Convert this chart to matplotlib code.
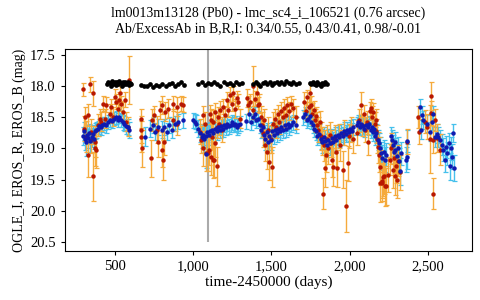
import matplotlib
matplotlib.use('Agg')
import matplotlib.pyplot as plt
import matplotlib.ticker as mticker

plt.rcParams['font.family'] = ['Liberation Serif', 'DejaVu Serif']

# EROS_B light curve: (day, mag, err)
eros_b = [
    (298, 18.05, 0.10), (305, 18.68, 0.20), (309, 18.49, 0.15), (319, 18.81, 0.25),
    (326, 19.11, 0.35), (330, 18.46, 0.18), (341, 17.97, 0.12), (347, 18.86, 0.22),
    (351, 18.73, 0.20), (362, 18.11, 0.20), (362, 19.45, 0.40), (373, 18.89, 0.25),
    (377, 19.00, 0.28), (383, 19.02, 0.30), (394, 18.62, 0.18), (405, 18.52, 0.15),
    (415, 18.57, 0.15), (426, 18.28, 0.12), (437, 18.52, 0.15), (447, 18.30, 0.12),
    (469, 18.44, 0.15), (479, 18.33, 0.12), (490, 18.49, 0.15), (500, 18.17, 0.12),
    (511, 18.25, 0.12), (522, 18.36, 0.15), (527, 18.22, 0.12), (532, 18.11, 0.12),
    (543, 18.28, 0.12), (554, 18.41, 0.15), (564, 18.22, 0.12), (575, 18.57, 0.15),
    (586, 18.65, 0.15), (592, 17.90, 0.38),
    (667, 18.52, 0.15), (667, 18.70, 0.22), (669, 18.81, 0.25), (671, 19.00, 0.30),
    (731, 19.16, 0.30), (735, 18.54, 0.18), (752, 18.46, 0.15), (767, 18.70, 0.22),
    (777, 18.89, 0.25), (788, 18.38, 0.15), (799, 19.02, 0.28), (803, 18.30, 0.15),
    (809, 19.18, 0.32), (812, 18.89, 0.22), (820, 18.41, 0.15), (841, 18.36, 0.15),
    (869, 18.28, 0.12), (873, 18.54, 0.18), (895, 18.33, 0.15), (899, 18.60, 0.18),
    (926, 18.28, 0.12), (937, 18.30, 0.12),
    (1044, 18.73, 0.20), (1054, 18.86, 0.22), (1061, 18.46, 0.15), (1065, 19.00, 0.28),
    (1076, 18.60, 0.18), (1086, 19.08, 0.28), (1095, 19.07, 0.30), (1103, 19.02, 0.25),
    (1108, 18.45, 0.15), (1112, 19.13, 0.30), (1118, 18.55, 0.18), (1124, 18.81, 0.22),
    (1127, 19.18, 0.30), (1129, 18.57, 0.18), (1133, 19.18, 0.28), (1139, 18.92, 0.22),
    (1140, 18.42, 0.15), (1150, 18.65, 0.18), (1152, 19.29, 0.32), (1161, 18.49, 0.15),
    (1167, 18.60, 0.18), (1171, 18.38, 0.15), (1182, 18.70, 0.20), (1193, 18.33, 0.12),
    (1203, 18.46, 0.15), (1214, 18.22, 0.12), (1225, 18.38, 0.12), (1235, 18.14, 0.12),
    (1246, 18.28, 0.12), (1256, 18.11, 0.12), (1267, 18.36, 0.15), (1278, 18.19, 0.12),
    (1289, 18.25, 0.12), (1299, 18.52, 0.15),
    (1342, 18.19, 0.15), (1352, 18.30, 0.15), (1365, 18.25, 0.12), (1380, 18.00, 0.32),
    (1384, 18.38, 0.15), (1398, 18.20, 0.12), (1406, 18.11, 0.15), (1415, 18.30, 0.12),
    (1423, 18.28, 0.15), (1432, 18.50, 0.18), (1440, 18.62, 0.20), (1448, 18.75, 0.22),
    (1455, 18.55, 0.18), (1462, 18.95, 0.25), (1470, 19.05, 0.28), (1478, 18.70, 0.20),
    (1488, 19.21, 0.30), (1495, 18.85, 0.22), (1505, 19.30, 0.32), (1512, 18.60, 0.18),
    (1522, 18.52, 0.15), (1532, 18.66, 0.18), (1542, 18.45, 0.15), (1552, 18.58, 0.18),
    (1562, 18.40, 0.15), (1572, 18.50, 0.15), (1582, 18.35, 0.15), (1592, 18.46, 0.15),
    (1602, 18.30, 0.12), (1615, 18.40, 0.15), (1628, 18.28, 0.12), (1640, 18.35, 0.15),
    (1655, 18.50, 0.18),
    (1710, 18.25, 0.15), (1720, 18.40, 0.15), (1730, 18.18, 0.12), (1740, 18.33, 0.15),
    (1747, 18.11, 0.15), (1755, 18.30, 0.15), (1762, 18.45, 0.18), (1770, 18.38, 0.15),
    (1778, 18.55, 0.18), (1785, 18.48, 0.15), (1792, 18.62, 0.20), (1800, 18.70, 0.20),
    (1808, 18.58, 0.18), (1815, 18.80, 0.22), (1822, 18.88, 0.22), (1832, 19.73, 0.25),
    (1838, 18.95, 0.25), (1843, 19.32, 0.30), (1849, 19.10, 0.28), (1856, 18.85, 0.22),
    (1864, 19.00, 0.25), (1872, 18.78, 0.20), (1880, 18.92, 0.22), (1885, 19.18, 0.28),
    (1896, 19.30, 0.30), (1905, 18.85, 0.22), (1915, 19.05, 0.25), (1922, 19.32, 0.30),
    (1932, 18.80, 0.20), (1942, 18.95, 0.25), (1956, 19.34, 0.30), (1965, 18.75, 0.20),
    (1977, 19.93, 0.42), (1988, 19.24, 0.28), (1998, 18.80, 0.20), (2010, 18.70, 0.20),
    (2025, 18.85, 0.22),
    (2050, 18.75, 0.20), (2060, 18.55, 0.18), (2070, 18.30, 0.20), (2080, 18.62, 0.18),
    (2090, 18.45, 0.15), (2100, 18.70, 0.20), (2110, 18.58, 0.18), (2120, 18.89, 0.22),
    (2130, 18.40, 0.15), (2138, 18.35, 0.15), (2145, 18.50, 0.18), (2152, 18.42, 0.15),
    (2160, 18.60, 0.18), (2166, 18.55, 0.18), (2172, 18.72, 0.20), (2178, 18.85, 0.22),
    (2184, 18.98, 0.25), (2190, 19.10, 0.28), (2194, 19.56, 0.30), (2196, 19.30, 0.28),
    (2204, 19.55, 0.30), (2207, 19.52, 0.28), (2215, 19.46, 0.30), (2220, 19.45, 0.28),
    (2226, 19.61, 0.32), (2233, 19.61, 0.30), (2247, 19.42, 0.28), (2258, 19.18, 0.25),
    (2265, 19.00, 0.25), (2275, 19.34, 0.30), (2282, 19.15, 0.25), (2290, 19.45, 0.30),
    (2298, 19.28, 0.28), (2305, 19.50, 0.30), (2312, 19.20, 0.25), (2320, 19.38, 0.28),
    (2368, 18.89, 0.20),
    (2439, 18.49, 0.18), (2445, 18.73, 0.20), (2481, 18.57, 0.18), (2496, 18.65, 0.20),
    (2512, 18.85, 0.55), (2517, 18.16, 0.22), (2519, 18.43, 0.20), (2530, 19.73, 0.25),
    (2535, 18.86, 0.22), (2545, 18.54, 0.18), (2560, 18.83, 0.22), (2577, 19.02, 0.25),
]

# EROS_R light curve: (day, mag, err)
eros_r = [
    (300, 18.80, 0.15), (305, 18.72, 0.14), (312, 18.85, 0.18), (318, 18.90, 0.22),
    (325, 18.78, 0.15), (332, 18.84, 0.16), (338, 18.75, 0.14), (345, 18.88, 0.18),
    (352, 18.82, 0.15), (360, 18.77, 0.14), (368, 18.85, 0.16), (375, 18.72, 0.13),
    (383, 18.70, 0.13), (392, 18.68, 0.12), (400, 18.64, 0.12), (410, 18.66, 0.12),
    (420, 18.62, 0.12), (432, 18.60, 0.11), (445, 18.63, 0.12), (460, 18.58, 0.11),
    (472, 18.55, 0.11), (485, 18.56, 0.11), (498, 18.52, 0.10), (510, 18.50, 0.10),
    (520, 18.54, 0.11), (530, 18.49, 0.10), (540, 18.55, 0.11), (552, 18.58, 0.12),
    (562, 18.60, 0.12), (572, 18.64, 0.12), (582, 18.66, 0.13), (590, 18.70, 0.13),
    (696, 18.81, 0.15), (724, 18.68, 0.14), (745, 18.62, 0.13), (760, 18.73, 0.14),
    (777, 18.65, 0.13), (799, 18.70, 0.14), (814, 18.65, 0.13), (831, 18.73, 0.14),
    (848, 18.62, 0.13), (863, 18.70, 0.14), (884, 18.60, 0.12), (905, 18.57, 0.12),
    (933, 18.55, 0.12),
    (1000, 18.55, 0.12), (1010, 18.57, 0.12), (1020, 18.60, 0.13), (1035, 18.68, 0.14),
    (1045, 18.75, 0.15), (1055, 18.82, 0.18), (1062, 18.78, 0.16), (1070, 18.85, 0.20),
    (1080, 18.80, 0.18), (1082, 19.09, 0.22), (1090, 18.74, 0.15), (1100, 18.78, 0.16),
    (1110, 18.72, 0.14), (1120, 18.70, 0.14), (1130, 18.75, 0.15), (1140, 18.68, 0.13),
    (1150, 18.72, 0.14), (1160, 18.66, 0.13), (1170, 18.70, 0.13), (1180, 18.64, 0.12),
    (1190, 18.68, 0.13), (1200, 18.62, 0.12), (1210, 18.66, 0.12), (1220, 18.60, 0.12),
    (1230, 18.64, 0.12), (1240, 18.62, 0.12), (1250, 18.58, 0.12), (1260, 18.62, 0.12),
    (1270, 18.60, 0.12), (1280, 18.65, 0.13), (1290, 18.63, 0.12), (1300, 18.60, 0.12),
    (1340, 18.56, 0.12), (1355, 18.45, 0.12), (1370, 18.58, 0.13), (1385, 18.50, 0.12),
    (1395, 18.45, 0.12), (1405, 18.55, 0.12), (1415, 18.52, 0.12), (1425, 18.62, 0.13),
    (1435, 18.70, 0.14), (1445, 18.66, 0.14), (1455, 18.78, 0.16), (1462, 18.85, 0.18),
    (1470, 18.74, 0.15), (1478, 18.90, 0.18), (1486, 18.80, 0.16), (1495, 18.86, 0.17),
    (1505, 18.72, 0.14), (1515, 18.78, 0.15), (1525, 18.70, 0.14), (1535, 18.75, 0.15),
    (1545, 18.68, 0.14), (1555, 18.72, 0.14), (1565, 18.65, 0.13), (1575, 18.70, 0.14),
    (1585, 18.62, 0.13), (1595, 18.68, 0.13), (1605, 18.60, 0.12), (1615, 18.66, 0.13),
    (1625, 18.62, 0.12), (1640, 18.58, 0.12), (1655, 18.62, 0.13),
    (1705, 18.50, 0.12), (1715, 18.45, 0.12), (1725, 18.55, 0.12), (1735, 18.52, 0.12),
    (1745, 18.48, 0.12), (1755, 18.57, 0.12), (1765, 18.62, 0.13), (1775, 18.68, 0.14),
    (1785, 18.72, 0.14), (1795, 18.80, 0.15), (1805, 18.76, 0.15), (1815, 18.85, 0.16),
    (1825, 18.90, 0.18), (1835, 18.82, 0.16), (1845, 18.88, 0.17), (1855, 18.95, 0.18),
    (1865, 18.86, 0.17), (1875, 18.92, 0.18), (1885, 18.84, 0.16), (1895, 18.90, 0.17),
    (1905, 18.80, 0.15), (1915, 18.86, 0.16), (1925, 18.78, 0.15), (1935, 18.82, 0.15),
    (1945, 18.75, 0.14), (1955, 18.80, 0.15), (1965, 18.72, 0.14), (1975, 18.76, 0.14),
    (1985, 18.70, 0.13), (1995, 18.74, 0.14), (2005, 18.68, 0.13), (2015, 18.72, 0.13),
    (2025, 18.66, 0.13),
    (2045, 18.62, 0.13), (2055, 18.58, 0.12), (2065, 18.66, 0.13), (2075, 18.60, 0.12),
    (2085, 18.64, 0.13), (2095, 18.68, 0.13), (2105, 18.62, 0.12), (2115, 18.66, 0.13),
    (2125, 18.60, 0.12), (2135, 18.70, 0.13), (2142, 18.65, 0.13), (2150, 18.74, 0.14),
    (2158, 18.68, 0.13), (2165, 18.80, 0.15), (2172, 18.75, 0.14), (2180, 18.86, 0.16),
    (2188, 18.92, 0.17), (2195, 19.00, 0.18), (2202, 19.08, 0.18), (2210, 19.15, 0.20),
    (2218, 19.05, 0.18), (2226, 19.18, 0.20), (2234, 19.10, 0.19),
    (2262, 18.80, 0.15), (2270, 18.86, 0.16), (2278, 18.95, 0.17), (2285, 19.05, 0.18),
    (2290, 19.02, 0.18), (2292, 18.90, 0.17), (2300, 19.12, 0.19), (2308, 19.00, 0.18),
    (2315, 19.20, 0.20), (2322, 19.37, 0.22), (2330, 19.08, 0.19), (2360, 19.18, 0.20),
    (2364, 19.13, 0.20), (2368, 18.88, 0.17),
    (2449, 18.33, 0.13), (2454, 18.70, 0.15), (2460, 18.46, 0.14), (2471, 18.54, 0.14),
    (2492, 18.60, 0.14), (2513, 18.73, 0.15), (2524, 18.57, 0.14), (2535, 18.44, 0.13),
    (2545, 18.81, 0.16), (2556, 18.76, 0.15), (2566, 18.81, 0.16), (2577, 18.86, 0.16),
    (2588, 18.94, 0.17), (2598, 19.02, 0.18), (2609, 19.18, 0.20), (2615, 18.98, 0.18),
    (2624, 19.08, 0.19), (2632, 18.92, 0.17), (2641, 19.29, 0.21), (2647, 19.00, 0.18),
    (2656, 19.13, 0.20), (2660, 18.75, 0.15), (2667, 19.32, 0.21),
]

# OGLE_I light curve: (day, mag)
ogle_i = [
    (450, 17.97), (460, 17.93), (470, 17.95), (478, 17.99), (485, 17.92), (492, 17.96),
    (500, 17.94), (508, 17.98), (515, 17.93), (522, 17.96), (530, 17.92), (538, 17.95),
    (545, 18.00), (552, 17.94), (560, 17.97), (568, 17.93), (575, 17.96), (582, 17.94),
    (590, 17.98), (598, 17.95), (605, 17.97),
    (665, 17.98), (685, 17.99), (705, 18.00), (725, 17.97), (745, 18.01), (765, 17.98),
    (785, 17.99), (805, 17.96), (825, 18.00), (845, 17.97), (865, 17.95), (885, 17.99),
    (905, 17.96), (925, 17.94), (945, 17.98),
    (1035, 17.96), (1055, 17.94), (1075, 17.98), (1095, 17.95), (1115, 17.97), (1135, 17.93),
    (1155, 17.96), (1175, 17.99), (1195, 17.94), (1215, 17.97), (1235, 17.95), (1255, 17.98),
    (1275, 17.94), (1295, 17.96), (1315, 17.95),
    (1385, 17.96), (1400, 17.94), (1415, 17.97), (1430, 17.99), (1445, 17.95), (1460, 17.93),
    (1475, 17.96), (1490, 17.94), (1505, 17.98), (1520, 17.95), (1535, 17.93), (1550, 17.97),
    (1565, 17.94), (1580, 17.96), (1595, 17.92), (1610, 17.95), (1625, 17.97), (1640, 17.94),
    (1660, 17.96), (1675, 17.95),
    (1745, 17.95), (1755, 17.97), (1765, 17.93), (1775, 17.96), (1785, 17.98), (1795, 17.94),
    (1805, 17.96), (1815, 17.99), (1825, 17.95), (1835, 17.97), (1845, 17.94), (1855, 17.96),
]

marker_day = 1097
x_ticks = [500, 1000, 1500, 2000, 2500]
y_ticks = [17.5, 18.0, 18.5, 19.0, 19.5, 20.0, 20.5]

b_day, b_mag, b_err = zip(*eros_b)
r_day, r_mag, r_err = zip(*eros_r)
i_day, i_mag = zip(*ogle_i)

fig = plt.figure(figsize=(4.8, 3.0), dpi=100)
ax = fig.add_axes([0.135, 0.163, 0.848, 0.674])

ax.vlines(marker_day, 17.0, 20.5, color='#aaaaaa', linewidth=1.5, zorder=1)

# error bars first, points on top
ax.errorbar(r_day, r_mag, yerr=r_err, fmt='none', ecolor='#45c0ec',
            elinewidth=1.0, capsize=1.8, capthick=0.9, zorder=2)
ax.errorbar(b_day, b_mag, yerr=b_err, fmt='none', ecolor='#f5aa3c',
            elinewidth=1.0, capsize=1.8, capthick=0.9, zorder=3)
ax.plot(b_day, b_mag, 'o', color='#b81800', markersize=3.2, markeredgewidth=0, zorder=4)
ax.plot(r_day, r_mag, 'o', color='#0f1ab0', markersize=3.2, markeredgewidth=0, zorder=5)
ax.plot(i_day, i_mag, 'o', color='black', markersize=3.4, markeredgewidth=0, zorder=6)

ax.set_xlim(181, 2781)
ax.set_ylim(20.65, 17.40)
ax.set_xticks(x_ticks)
ax.set_yticks(y_ticks)
ax.xaxis.set_major_formatter(mticker.FuncFormatter(lambda v, p: f'{int(v):,}'))
ax.yaxis.set_major_formatter(mticker.FormatStrFormatter('%.1f'))
ax.tick_params(direction='out', length=3, width=0.8, labelsize=10.5,
               top=False, right=False)

ax.set_xlabel('time-2450000 (days)', fontsize=11, labelpad=2)
ax.set_ylabel('OGLE_I, EROS_R, EROS_B (mag)', fontsize=10, labelpad=3)
ax.set_title('lm0013m13128 (Pb0) - lmc_sc4_i_106521 (0.76 arcsec)\n'
             'Ab/ExcessAb in B,R,I: 0.34/0.55, 0.43/0.41, 0.98/-0.01',
             fontsize=10, linespacing=1.2, pad=12)

fig.savefig('out.png', dpi=100)
